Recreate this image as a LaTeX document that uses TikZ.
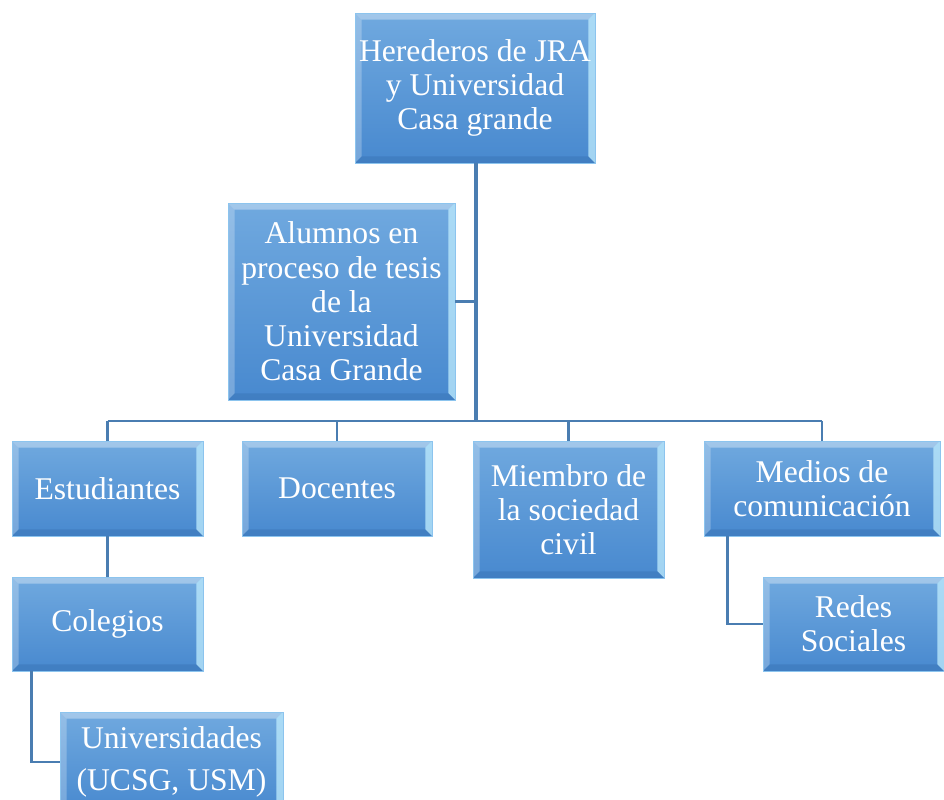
\documentclass[tikz,border=0pt]{standalone}
\usepackage{fontspec}
\setmainfont{Liberation Serif}
\usetikzlibrary{calc}

\definecolor{boxtop}{HTML}{70A9DF}
\definecolor{boxbot}{HTML}{4889CF}
\definecolor{boxedge}{HTML}{8CC4EE}
\definecolor{bevlight}{HTML}{B9E7FB}
\definecolor{bevdark}{HTML}{3C78BA}
\definecolor{linkblue}{HTML}{4A7DB1}

\tikzset{
  orgbox/.style={rectangle, top color=boxtop, bottom color=boxbot,
    draw=boxedge, line width=0.4pt, text=white, align=center, inner sep=1pt,
    font=\fontsize{18}{19.5}\selectfont,
    path picture={
      \def\bw{0.13cm}
      \fill[white,opacity=0.35] (path picture bounding box.north west) -- (path picture bounding box.north east)
        -- ([shift={(-\bw,-\bw)}]path picture bounding box.north east) -- ([shift={(\bw,-\bw)}]path picture bounding box.north west) -- cycle;
      \fill[white,opacity=0.25] (path picture bounding box.north west) -- (path picture bounding box.south west)
        -- ([shift={(\bw,\bw)}]path picture bounding box.south west) -- ([shift={(\bw,-\bw)}]path picture bounding box.north west) -- cycle;
      \fill[bevlight,opacity=0.8] (path picture bounding box.north east) -- (path picture bounding box.south east)
        -- ([shift={(-\bw,\bw)}]path picture bounding box.south east) -- ([shift={(-\bw,-\bw)}]path picture bounding box.north east) -- cycle;
      \fill[bevdark,opacity=0.6] (path picture bounding box.south west) -- (path picture bounding box.south east)
        -- ([shift={(-\bw,\bw)}]path picture bounding box.south east) -- ([shift={(\bw,\bw)}]path picture bounding box.south west) -- cycle;
    }},
  link/.style={draw=linkblue, line width=1.6pt},
  trunk/.style={draw=linkblue, line width=2.3pt}
}

\begin{document}
\begin{tikzpicture}[x=0.02cm,y=-0.02cm]
        \useasboundingbox (0,0) rectangle (944,800);

        \node[orgbox, minimum width=4.8cm, minimum height=3cm] (herederos) at (475,88) {Herederos de JRA\\y Universidad\\Casa grande};
        \node[orgbox, minimum width=4.54cm, minimum height=3.94cm] (alumnos) at (341.5,301.5) {Alumnos en\\proceso de tesis\\de la\\Universidad\\Casa Grande};

        \node[orgbox, minimum width=3.82cm, minimum height=1.9cm] (estudiantes) at (107.5,488.5) {Estudiantes};
        \node[orgbox, minimum width=3.8cm, minimum height=1.9cm] (docentes) at (337,488.5) {Docentes};
        \node[orgbox, minimum width=3.82cm, minimum height=2.74cm] (miembro) at (568.5,509.5) {Miembro de\\la sociedad\\civil};
        \node[orgbox, minimum width=4.72cm, minimum height=1.9cm] (medios) at (822,488.5) {Medios de\\comunicación};

        \node[orgbox, minimum width=3.82cm, minimum height=1.88cm] (colegios) at (107.5,624) {Colegios};
        \node[orgbox, minimum width=3.62cm, minimum height=1.88cm] (redes) at (853.5,624) {Redes\\Sociales};
        \node[orgbox, minimum width=4.46cm, minimum height=2cm] (universidades) at (171.5,762) {Universidades\\[4pt](UCSG, USM)};

        \coordinate (bus) at (476,421);

        % lineas
        \draw[trunk] (herederos.south -| bus) -- (bus);
        \draw[link]  (alumnos.east) -- (alumnos.east -| bus);
        \draw[link]  (estudiantes.north |- bus) -- (medios.north |- bus);
        \foreach \n in {estudiantes,docentes,miembro,medios}
          \draw[link] (\n.north |- bus) -- (\n.north);
        \draw[link]  (estudiantes.south) -- (colegios.north);
        \draw[link]  ([xshift=0.4cm]colegios.south west) |- (universidades.west);
        \draw[link]  ([xshift=0.48cm]medios.south west) |- (redes.west);
      \end{tikzpicture}
\end{document}
